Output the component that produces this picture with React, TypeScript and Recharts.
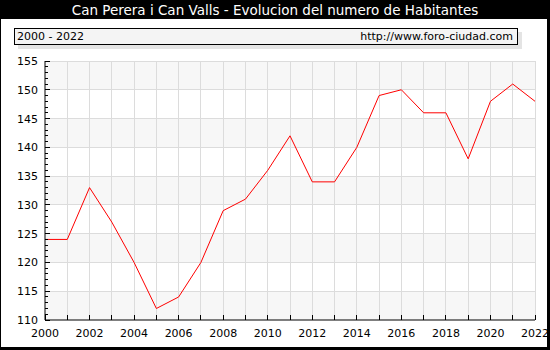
import React from 'react'
import {
  LineChart, Line, XAxis, YAxis,
  ReferenceArea, ReferenceLine,
} from 'recharts'

const TITLE = 'Can Perera i Can Valls - Evolucion del numero de Habitantes'
const RANGE_LABEL = '2000 - 2022'
const SOURCE = 'http://www.foro-ciudad.com'

const years = [
  2000, 2001, 2002, 2003, 2004, 2005, 2006, 2007, 2008, 2009, 2010, 2011,
  2012, 2013, 2014, 2015, 2016, 2017, 2018, 2019, 2020, 2021, 2022,
]
const habitantes = [
  124, 124, 133, 127, 120, 112, 114, 120, 129, 131, 136, 142,
  134, 134, 140, 149, 150, 146, 146, 138, 148, 151, 148,
]
const yMajor = [110, 115, 120, 125, 130, 135, 140, 145, 150, 155]
const shadedBands = [[110, 115], [120, 125], [130, 135], [140, 145], [150, 155]]

const data = years.map((y, i) => ({ year: y, value: habitantes[i] }))
const yMinor: number[] = []
for (let v = yMajor[0]; v <= yMajor[yMajor.length - 1]; v++) yMinor.push(v)

const FONT = '"DejaVu Sans", Verdana, sans-serif'
const PLOT_LEFT = 45
const PLOT_BOTTOM = 320
const GRID = '#dcdcdc'

const YTick = ({ y, payload }: any) => {
  const major = payload.value % 5 === 0
  return (
    <g>
      <line x1={PLOT_LEFT} x2={PLOT_LEFT + (major ? 5 : 3)} y1={y} y2={y}
        stroke="#000" shapeRendering="crispEdges" />
      {major && (
        <text x={PLOT_LEFT - 7} y={y} dy={4} textAnchor="end"
          fontSize={11} fontFamily={FONT} fill="#000">
          {payload.value}
        </text>
      )}
    </g>
  )
}

const XTick = ({ x, payload }: any) => {
  const labelled = payload.value % 2 === 0
  return (
    <g>
      <line x1={x} x2={x} y1={PLOT_BOTTOM} y2={PLOT_BOTTOM - 5}
        stroke="#000" shapeRendering="crispEdges" />
      {labelled && (
        <text x={x} y={PLOT_BOTTOM + 17} textAnchor="middle"
          fontSize={11} fontFamily={FONT} fill="#000">
          {payload.value}
        </text>
      )}
    </g>
  )
}

export default function App() {
  return (
    <div style={{ position: 'absolute', left: 0, top: 0, width: 550, height: 350, background: '#000', fontFamily: FONT }}>
      <div style={{ position: 'absolute', left: 0, top: 2, width: 550, textAlign: 'center', color: '#fff', fontSize: 13.5 }}>
        {TITLE}
      </div>
      <div style={{ position: 'absolute', left: 1, top: 19, width: 546, height: 328, background: '#fff' }} />
      <div style={{
        position: 'absolute', left: 14, top: 28, width: 502, height: 15,
        border: '1px solid #000', background: '#f4f4f4', boxShadow: '4px 4px 0 #e4e4e4',
        fontSize: 11, lineHeight: '15px', color: '#000',
      }}>
        <span style={{ position: 'absolute', left: 2 }}>{RANGE_LABEL}</span>
        <span style={{ position: 'absolute', right: 4 }}>{SOURCE}</span>
      </div>
      <div style={{ position: 'absolute', left: 0, top: 0 }}>
        <LineChart width={550} height={350} data={data}
          margin={{ top: 61, right: 15, bottom: 0, left: 5 }}>
          {shadedBands.map(([a, b]) => (
            <ReferenceArea key={a} y1={a} y2={b} fill="#f7f7f7" fillOpacity={1} stroke="none" />
          ))}
          {years.slice(1).map(yr => (
            <ReferenceLine key={'x' + yr} x={yr} stroke={GRID} shapeRendering="crispEdges" />
          ))}
          {yMajor.slice(1).map(v => (
            <ReferenceLine key={'y' + v} y={v} stroke={GRID} shapeRendering="crispEdges" />
          ))}
          <XAxis dataKey="year" type="number" domain={[2000, 2022]} ticks={years}
            height={30} axisLine={{ stroke: '#000' }} tickLine={false}
            tick={<XTick />} interval={0} />
          <YAxis type="number" domain={[110, 155]} ticks={yMinor} width={40}
            axisLine={{ stroke: '#000' }} tickLine={false}
            tick={<YTick />} interval={0} />
          <Line type="linear" dataKey="value" stroke="#ff0000" strokeWidth={1}
            dot={false} isAnimationActive={false} />
        </LineChart>
      </div>
    </div>
  )
}
